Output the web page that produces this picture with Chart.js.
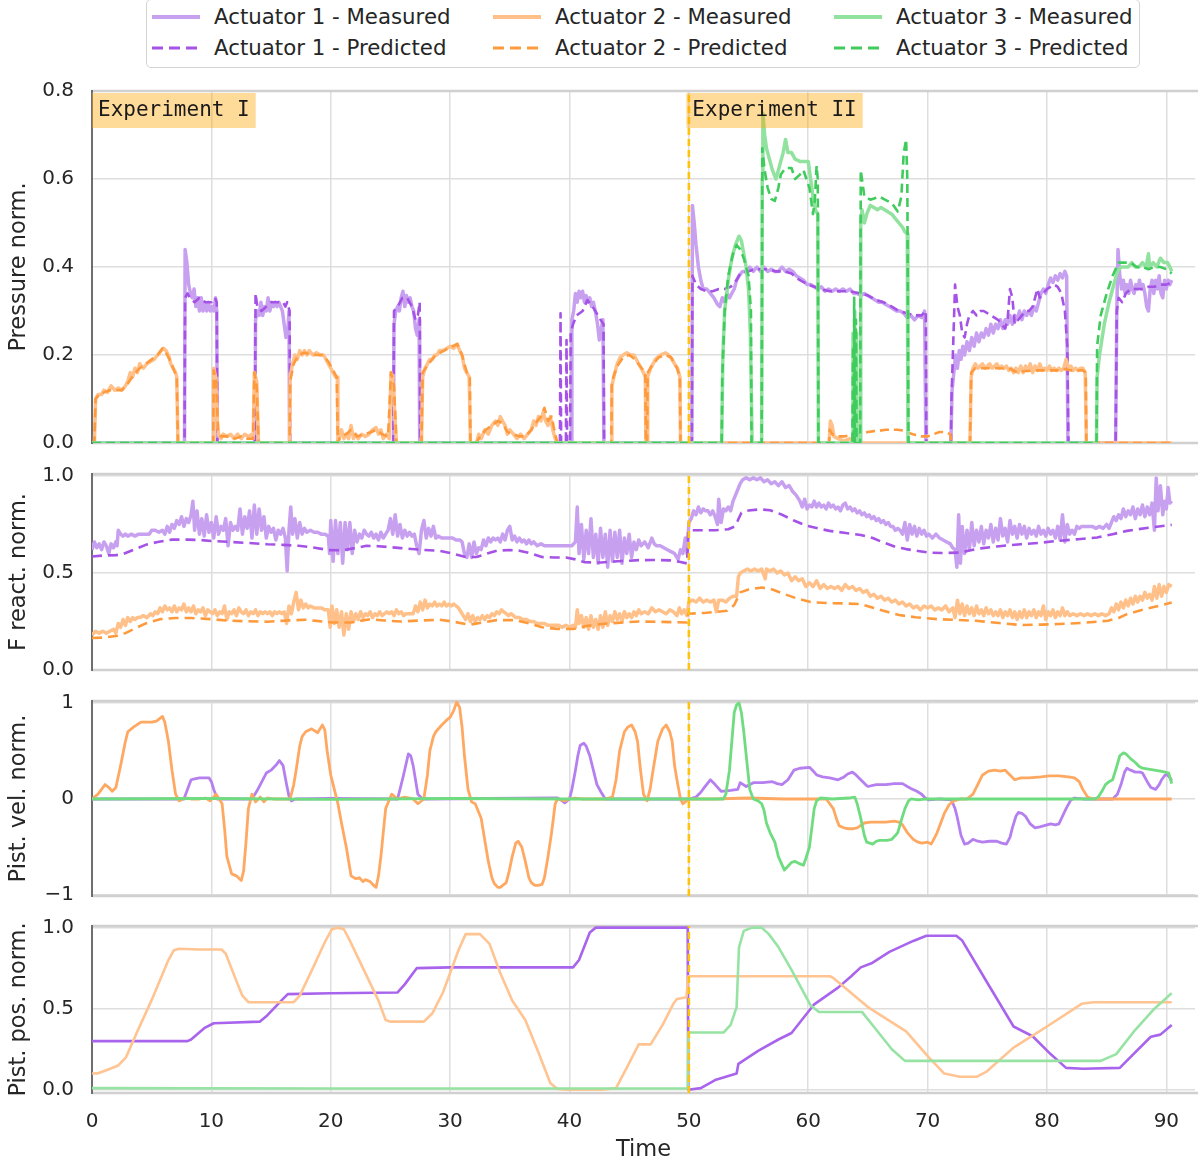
<!DOCTYPE html>
<html>
<head>
<meta charset="utf-8">
<script src="https://cdn.jsdelivr.net/npm/chart.js@4.4.1/dist/chart.umd.min.js"></script>
<style>
  html, body { margin: 0; padding: 0; background: #fff; }
  body { width: 1198px; height: 1164px; position: relative; overflow: hidden; font-family: "DejaVu Sans", sans-serif; }
  canvas { position: absolute; left: 0; }
  #legend { position: absolute; left: 146px; top: -1px; width: 992px; height: 67px; border: 1.5px solid #d4d4d4; border-radius: 5px; background: #fff; }
  .lg-text { position: absolute; font-size: 21.3px; line-height: 24px; color: #262626; white-space: nowrap; }
  .lg-line { position: absolute; }
</style>
</head>
<body>
<div id="legend"></div>
<canvas id="p1" width="1198" height="376" style="top:79px"></canvas>
<canvas id="p2" width="1198" height="220" style="top:462px"></canvas>
<canvas id="p3" width="1198" height="219" style="top:689px"></canvas>
<canvas id="p4" width="1198" height="250" style="top:914px"></canvas>
<script>
// ======================= DATA =======================
const xTicks = [0, 10, 20, 30, 40, 50, 60, 70, 80, 90];
const experimentNames = ['Experiment I', 'Experiment II'];
const experimentStarts = [0, 50];
const seriesNames = ['Actuator 1 - Measured', 'Actuator 1 - Predicted', 'Actuator 2 - Measured', 'Actuator 2 - Predicted', 'Actuator 3 - Measured', 'Actuator 3 - Predicted'];

const pressTicks = [0, 0.2, 0.4, 0.6, 0.8];
const forceTicks = [0, 0.5, 1.0];
const velTicks = [-1, 0, 1];
const posTicks = [0, 0.5, 1.0];

// ---- Panel 1: pressure (time, value) ----
const a1PressMeas = [[0,0],[7.75,0],[7.8,0.44],[7.95,0.41],[8.1,0.36],[8.25,0.34],[8.4,0.33],[8.55,0.35],[8.7,0.31],[8.85,0.33],[9.0,0.3],[9.15,0.33],[9.3,0.3],[9.45,0.32],[9.6,0.3],[9.75,0.32],[9.9,0.3],[10.05,0.31],[10.2,0.3],[10.35,0.33],[10.45,0.3],[10.5,0],
[13.65,0],[13.7,0.28],[13.85,0.3],[14.0,0.29],[14.15,0.32],[14.3,0.29],[14.45,0.31],[14.6,0.3],[14.75,0.33],[14.9,0.3],[15.05,0.32],[15.2,0.31],[15.35,0.32],[15.5,0.31],[15.65,0.32],[15.8,0.31],[15.95,0.3],[16.1,0.27],[16.25,0.24],[16.4,0.25],[16.5,0.3],[16.55,0],
[25.25,0],[25.3,0.27],[25.45,0.3],[25.6,0.31],[25.75,0.3],[25.9,0.33],[26.05,0.345],[26.2,0.31],[26.35,0.335],[26.5,0.32],[26.65,0.33],[26.8,0.31],[26.95,0.3],[27.1,0.26],[27.25,0.245],[27.4,0.28],[27.45,0],
[40.15,0],[40.2,0.28],[40.35,0.3],[40.5,0.34],[40.65,0.32],[40.8,0.345],[40.95,0.33],[41.1,0.345],[41.25,0.32],[41.4,0.335],[41.55,0.32],[41.7,0.33],[41.85,0.31],[42.0,0.32],[42.2,0.295],[42.35,0.27],[42.5,0.234],[42.65,0.26],[42.8,0.28],[42.88,0],
[50.25,0],[50.3,0.54],[50.45,0.5],[50.6,0.45],[50.8,0.4],[51.0,0.37],[51.2,0.35],[51.5,0.35],[51.8,0.34],[52.1,0.33],[52.4,0.315],[52.6,0.31],[52.8,0.33],[53.0,0.32],[53.2,0.34],[53.4,0.33],[53.6,0.34],[53.8,0.35],[54.0,0.37],[54.2,0.38],[54.5,0.39],[54.8,0.39],[55.1,0.4],[55.4,0.39],[55.7,0.4],[56.0,0.39],[56.3,0.4],[56.6,0.39],[56.9,0.395],[57.2,0.39],[57.5,0.39],[57.8,0.4],[58.1,0.39],[58.4,0.395],[58.7,0.39],[59.0,0.38],[59.3,0.375],[59.6,0.37],[59.9,0.36],[60.2,0.36],[60.5,0.355],[60.8,0.35],[61.1,0.355],[61.4,0.345],[61.7,0.35],[62.0,0.345],[62.3,0.35],[62.6,0.345],[62.9,0.35],[63.2,0.345],[63.5,0.35],[63.8,0.34],[64.1,0.34],[64.4,0.335],[64.7,0.34],[65.0,0.335],[65.3,0.33],[65.6,0.325],[65.9,0.32],[66.2,0.32],[66.5,0.315],[66.8,0.31],[67.1,0.305],[67.4,0.3],[67.7,0.3],[68.0,0.295],[68.3,0.285],[68.6,0.29],[68.9,0.28],[69.2,0.29],[69.5,0.285],[69.75,0.3],[69.85,0],
[71.95,0],[72.05,0.12],[72.2,0.16],[72.35,0.2],[72.5,0.17],[72.65,0.21],[72.8,0.19],[72.95,0.22],[73.1,0.2],[73.3,0.23],[73.5,0.21],[73.7,0.24],[73.9,0.22],[74.1,0.25],[74.3,0.23],[74.5,0.25],[74.7,0.24],[74.9,0.26],[75.1,0.245],[75.3,0.27],[75.5,0.25],[75.7,0.27],[75.9,0.26],[76.1,0.28],[76.3,0.26],[76.5,0.28],[76.7,0.27],[76.9,0.29],[77.1,0.27],[77.3,0.29],[77.5,0.28],[77.7,0.3],[77.9,0.28],[78.1,0.3],[78.3,0.29],[78.5,0.3],[78.7,0.29],[78.9,0.31],[79.1,0.3],[79.3,0.32],[79.5,0.34],[79.7,0.35],[79.9,0.34],[80.1,0.36],[80.3,0.375],[80.5,0.365],[80.7,0.38],[80.9,0.37],[81.1,0.385],[81.3,0.375],[81.5,0.39],[81.65,0.38],[81.75,0],
[85.75,0],[85.85,0.3],[85.95,0.44],[86.1,0.38],[86.25,0.35],[86.4,0.37],[86.55,0.34],[86.7,0.36],[86.85,0.34],[87.0,0.37],[87.15,0.35],[87.3,0.34],[87.45,0.36],[87.6,0.35],[87.75,0.37],[87.9,0.35],[88.05,0.36],[88.2,0.34],[88.35,0.31],[88.5,0.3],[88.65,0.35],[88.8,0.37],[88.95,0.34],[89.1,0.37],[89.25,0.35],[89.4,0.38],[89.55,0.34],[89.7,0.33],[89.85,0.37],[90.0,0.35],[90.15,0.37],[90.3,0.36],[90.45,0.37]];

const a1PressPred = [[0,0],[7.75,0],[7.8,0.33],[8.0,0.34],[8.2,0.33],[8.6,0.32],[9.0,0.33],[9.5,0.32],[10.0,0.32],[10.3,0.33],[10.45,0.32],[10.5,0],
[13.65,0],[13.7,0.34],[13.85,0.31],[14.2,0.3],[14.6,0.31],[15.0,0.32],[15.5,0.32],[16.0,0.32],[16.2,0.31],[16.35,0.32],[16.55,0.3],[16.6,0],
[25.25,0],[25.3,0.3],[25.6,0.31],[26.0,0.33],[26.4,0.33],[26.8,0.31],[27.1,0.28],[27.3,0.29],[27.45,0.32],[27.5,0],
[39.2,0],[39.25,0.295],[39.3,0],[39.7,0],[39.75,0.234],[39.8,0],[40.05,0],[40.1,0.25],[40.3,0.27],[40.6,0.29],[41.1,0.3],[41.5,0.325],[42.05,0.305],[42.6,0.28],[42.85,0.27],[42.9,0],
[50.25,0],[50.3,0.38],[50.6,0.36],[51.0,0.35],[51.5,0.345],[52.0,0.345],[52.5,0.35],[53.0,0.35],[53.5,0.355],[54.0,0.37],[54.3,0.385],[55.0,0.39],[55.5,0.395],[56.0,0.395],[56.7,0.395],[57.3,0.39],[58.0,0.39],[58.6,0.385],[59.3,0.37],[60.0,0.36],[60.5,0.355],[61.0,0.35],[61.8,0.345],[62.5,0.345],[63.4,0.345],[64.4,0.34],[65.0,0.335],[65.7,0.325],[66.3,0.32],[67.0,0.31],[67.6,0.3],[68.3,0.295],[68.9,0.29],[69.5,0.29],[69.85,0.3],[69.9,0],
[71.95,0],[72.0,0.1],[72.3,0.36],[72.5,0.31],[72.7,0.29],[72.9,0.25],[73.1,0.24],[73.3,0.27],[73.5,0.29],[73.8,0.3],[74.1,0.29],[74.4,0.3],[74.7,0.3],[75.0,0.295],[75.3,0.29],[75.6,0.285],[75.9,0.28],[76.2,0.27],[76.5,0.26],[76.7,0.28],[76.9,0.35],[77.1,0.33],[77.3,0.27],[77.6,0.28],[77.9,0.29],[78.2,0.3],[78.5,0.3],[78.8,0.31],[79.0,0.33],[79.2,0.35],[79.4,0.33],[79.7,0.34],[80.0,0.35],[80.3,0.355],[80.6,0.36],[80.9,0.355],[81.2,0.34],[81.5,0.3],[81.7,0.22],[81.8,0],
[85.75,0],[85.85,0.3],[86.0,0.33],[86.3,0.32],[86.6,0.34],[87.0,0.35],[87.5,0.35],[88.0,0.35],[88.5,0.355],[89.0,0.355],[89.5,0.36],[90.0,0.36],[90.45,0.365]];

const a2PressMeas = [[0,0],[0.2,0],[0.3,0.1],[0.5,0.11],[0.8,0.11],[1.0,0.12],[1.3,0.115],[1.6,0.13],[1.9,0.12],[2.2,0.125],[2.5,0.12],[2.8,0.13],[3.0,0.14],[3.2,0.16],[3.4,0.15],[3.6,0.17],[3.8,0.16],[4.0,0.18],[4.3,0.17],[4.6,0.18],[4.9,0.185],[5.2,0.19],[5.5,0.2],[5.8,0.21],[6.0,0.215],[6.2,0.21],[6.4,0.2],[6.6,0.18],[6.8,0.17],[7.0,0.16],[7.1,0.15],[7.2,0],
[10.15,0],[10.2,0.17],[10.35,0.15],[10.5,0.05],[10.6,0.02],[10.8,0.01],[11.0,0.02],[11.3,0.015],[11.6,0.02],[11.9,0.01],[12.2,0.02],[12.5,0.01],[12.8,0.02],[13.1,0.015],[13.4,0.02],[13.5,0.01],[13.6,0.16],[13.8,0.14],[13.95,0],
[16.55,0],[16.6,0.15],[16.8,0.18],[17.0,0.2],[17.2,0.19],[17.4,0.21],[17.6,0.2],[17.8,0.21],[18.0,0.2],[18.2,0.21],[18.5,0.2],[18.8,0.205],[19.1,0.2],[19.4,0.2],[19.6,0.19],[19.8,0.18],[20.0,0.17],[20.2,0.16],[20.4,0.15],[20.55,0.15],[20.6,0],[20.7,0.01],[20.9,0.03],[21.1,0.01],[21.3,0.02],[21.5,0.01],[21.7,0.04],[21.9,0.01],[22.1,0.02],[22.3,0.01],[22.6,0.02],[22.9,0.015],[23.2,0.02],[23.5,0.03],[23.8,0.035],[24.0,0.02],[24.2,0.03],[24.4,0.01],[24.7,0.02],[24.9,0.01],[25.05,0.16],[25.2,0.15],[25.4,0.05],[25.5,0],
[27.6,0],[27.7,0.15],[27.9,0.17],[28.1,0.18],[28.3,0.19],[28.5,0.19],[28.7,0.2],[28.9,0.2],[29.1,0.21],[29.4,0.21],[29.7,0.215],[30.0,0.22],[30.3,0.215],[30.6,0.225],[30.8,0.21],[31.0,0.2],[31.2,0.17],[31.4,0.16],[31.6,0.15],[31.7,0],
[32.2,0],[32.4,0.02],[32.6,0.01],[32.9,0.03],[33.2,0.02],[33.5,0.04],[33.8,0.05],[34.0,0.04],[34.2,0.06],[34.4,0.05],[34.6,0.04],[34.8,0.02],[35.0,0.03],[35.3,0.02],[35.6,0.01],[35.9,0.02],[36.2,0.01],[36.5,0.02],[36.8,0.03],[37.0,0.05],[37.2,0.04],[37.4,0.06],[37.6,0.05],[37.8,0.07],[38.0,0.05],[38.2,0.04],[38.4,0.06],[38.6,0.03],[38.8,0.01],[39.0,0],
[43.5,0],[43.55,0.13],[43.8,0.16],[44.0,0.18],[44.25,0.195],[44.5,0.2],[44.8,0.205],[45.1,0.2],[45.4,0.2],[45.7,0.185],[45.9,0.175],[46.2,0.16],[46.35,0.15],[46.4,0],[46.5,0],[46.55,0.15],[46.8,0.17],[47.0,0.18],[47.2,0.19],[47.6,0.2],[48.05,0.205],[48.3,0.2],[48.6,0.19],[48.8,0.18],[49.05,0.17],[49.25,0.15],[49.3,0],
[61.75,0],[61.85,0.05],[62.0,0.04],[62.15,0.015],[62.5,0.01],[63.0,0.005],[63.5,0.01],[64.0,0],
[73.55,0],[73.65,0.15],[73.8,0.17],[74.0,0.18],[74.2,0.17],[74.4,0.175],[74.6,0.18],[74.8,0.17],[75.0,0.175],[75.2,0.18],[75.4,0.17],[75.6,0.175],[75.8,0.18],[76.0,0.17],[76.2,0.175],[76.4,0.17],[76.6,0.175],[76.8,0.165],[77.0,0.17],[77.2,0.16],[77.4,0.17],[77.6,0.16],[77.8,0.175],[78.0,0.16],[78.2,0.175],[78.4,0.165],[78.6,0.18],[78.8,0.16],[79.0,0.175],[79.2,0.165],[79.4,0.18],[79.6,0.165],[79.8,0.17],[80.0,0.165],[80.2,0.175],[80.4,0.165],[80.6,0.17],[80.8,0.165],[81.0,0.17],[81.2,0.165],[81.4,0.17],[81.6,0.19],[81.8,0.17],[82.0,0.175],[82.2,0.165],[82.4,0.17],[82.6,0.165],[82.8,0.17],[83.0,0.17],[83.2,0.16],[83.3,0],[90.5,0]];

const a2PressPred = [[0,0],[0.2,0],[0.3,0.1],[0.6,0.11],[1.0,0.115],[1.5,0.12],[2.0,0.12],[2.5,0.12],[3.0,0.135],[3.5,0.155],[4.0,0.17],[4.5,0.18],[5.0,0.19],[5.5,0.2],[5.9,0.215],[6.2,0.205],[6.5,0.19],[6.8,0.17],[7.1,0.15],[7.2,0],
[10.15,0],[10.2,0.165],[10.4,0.14],[10.55,0.03],[10.8,0.015],[11.5,0.015],[12.0,0.01],[12.5,0.015],[13.0,0.01],[13.5,0.01],[13.6,0.16],[13.8,0.13],[13.95,0],
[16.55,0],[16.6,0.14],[16.9,0.18],[17.3,0.2],[17.8,0.205],[18.5,0.2],[19.3,0.2],[19.8,0.185],[20.2,0.165],[20.5,0.15],[20.6,0],[20.8,0.015],[21.3,0.02],[21.7,0.03],[22.2,0.015],[22.8,0.02],[23.4,0.025],[23.8,0.03],[24.3,0.02],[24.8,0.015],[25.05,0.16],[25.3,0.13],[25.5,0],
[27.6,0],[27.7,0.16],[28.2,0.18],[28.8,0.2],[29.5,0.21],[30.2,0.22],[30.6,0.225],[31.0,0.2],[31.4,0.16],[31.65,0.15],[31.7,0],
[32.2,0],[32.5,0.015],[33.0,0.03],[33.5,0.04],[34.0,0.05],[34.4,0.045],[34.8,0.025],[35.3,0.02],[35.8,0.015],[36.3,0.015],[36.8,0.03],[37.3,0.05],[37.6,0.06],[37.9,0.08],[38.2,0.05],[38.5,0.06],[38.8,0.02],[39.0,0],
[43.5,0],[43.55,0.14],[44.0,0.175],[44.5,0.195],[45.0,0.2],[45.5,0.19],[45.9,0.175],[46.35,0.16],[46.4,0],[46.5,0],[46.55,0.16],[47.0,0.18],[47.5,0.195],[48.05,0.2],[48.5,0.195],[49.0,0.17],[49.25,0.15],[49.3,0],
[61.75,0],[61.8,0.03],[62.0,0.02],[62.5,0.015],[63.0,0.015],[63.5,0.018],[64.0,0.02],[64.5,0.022],[65.0,0.025],[65.5,0.027],[66.0,0.028],[66.5,0.03],[67.0,0.03],[67.5,0.03],[68.0,0.028],[68.5,0.022],[69.0,0.018],[69.5,0.015],[70.0,0.015],[70.5,0.02],[71.0,0.025],[71.5,0.025],[71.9,0.02],[72.0,0],
[73.55,0],[73.65,0.16],[74.0,0.17],[75.0,0.17],[76.0,0.17],[77.0,0.168],[77.5,0.16],[78.0,0.163],[79.0,0.165],[80.0,0.165],[81.0,0.165],[81.5,0.168],[82.0,0.165],[83.0,0.165],[83.25,0.16],[83.3,0],[90.5,0]];

const a3PressMeas = [[0,0],[52.75,0],[52.85,0.2],[53.0,0.3],[53.3,0.37],[53.6,0.42],[53.9,0.45],[54.2,0.47],[54.4,0.46],[54.6,0.43],[54.8,0.4],[55.0,0.35],[55.15,0.25],[55.3,0],
[56.1,0],[56.15,0.6],[56.2,0.75],[56.35,0.7],[56.5,0.67],[56.8,0.64],[57.0,0.62],[57.3,0.6],[57.6,0.63],[57.9,0.66],[58.1,0.69],[58.3,0.66],[58.6,0.66],[58.9,0.645],[59.3,0.64],[59.7,0.64],[60.0,0.64],[60.2,0.6],[60.4,0.56],[60.6,0.53],[60.8,0.52],[60.85,0],
[63.7,0],[63.75,0.25],[63.8,0],[63.9,0.3],[63.95,0],[64.05,0.25],[64.1,0],[64.35,0],[64.4,0.5],[64.5,0.53],[64.7,0.5],[64.9,0.52],[65.2,0.54],[65.5,0.535],[65.8,0.53],[66.1,0.535],[66.4,0.53],[66.7,0.525],[67.0,0.52],[67.3,0.51],[67.6,0.5],[67.9,0.49],[68.1,0.48],[68.3,0.475],[68.35,0],
[84.15,0],[84.2,0.15],[84.4,0.2],[84.8,0.27],[85.2,0.32],[85.5,0.35],[85.9,0.39],[86.2,0.4],[86.5,0.4],[86.8,0.4],[87.1,0.41],[87.4,0.4],[87.7,0.4],[88.0,0.41],[88.3,0.4],[88.5,0.43],[88.6,0.4],[88.9,0.41],[89.2,0.4],[89.5,0.42],[89.8,0.41],[90.1,0.41],[90.3,0.4],[90.45,0.39]];

const a3PressPred = [[0,0],[52.75,0],[52.8,0.15],[53.0,0.3],[53.3,0.38],[53.7,0.43],[54.0,0.45],[54.3,0.44],[54.6,0.42],[55.0,0.38],[55.2,0.3],[55.25,0],
[56.1,0],[56.15,0.67],[56.35,0.62],[56.6,0.58],[56.9,0.555],[57.2,0.55],[57.5,0.58],[57.7,0.61],[58.1,0.625],[58.6,0.625],[58.9,0.6],[59.3,0.61],[59.6,0.62],[60.1,0.58],[60.4,0.52],[60.55,0.55],[60.7,0.63],[60.8,0.6],[60.85,0],
[63.7,0],[63.75,0.22],[63.8,0],[63.85,0.33],[63.9,0],[64.0,0.28],[64.05,0],[64.35,0],[64.4,0.62],[64.7,0.56],[65.2,0.553],[66.0,0.56],[66.3,0.555],[67.0,0.545],[67.5,0.526],[67.8,0.56],[68.0,0.66],[68.2,0.69],[68.3,0.6],[68.4,0],
[84.15,0],[84.2,0.22],[84.5,0.29],[85.0,0.34],[85.5,0.38],[86.0,0.41],[86.5,0.41],[87.0,0.41],[87.5,0.4],[88.0,0.4],[88.5,0.395],[89.0,0.4],[89.5,0.4],[90.0,0.395],[90.45,0.385]];

// ---- Panel 2: reaction force ----
const a1ForceMeas = [[0,0.62],[0.2,0.66],[0.4,0.63],[0.6,0.65],[0.8,0.62],[1.0,0.66],[1.2,0.64],[1.4,0.6],[1.6,0.65],[1.8,0.63],[2.0,0.66],[2.1,0.64],[2.2,0.72],[2.4,0.7],[2.6,0.69],[2.8,0.7],[3.0,0.69],[3.3,0.7],[3.6,0.69],[3.9,0.7],[4.2,0.7],[4.5,0.7],[4.8,0.7],[5.0,0.72],[5.3,0.72],[5.6,0.71],[5.9,0.72],[6.1,0.7],[6.3,0.74],[6.5,0.71],[6.7,0.75],[6.9,0.73],[7.1,0.77],[7.3,0.75],[7.5,0.79],[7.7,0.74],[7.9,0.78],[8.1,0.76],[8.3,0.8],[8.45,0.87],[8.6,0.72],[8.8,0.82],[9.0,0.7],[9.2,0.78],[9.4,0.69],[9.6,0.8],[9.8,0.71],[10.0,0.76],[10.2,0.68],[10.4,0.79],[10.6,0.7],[10.8,0.74],[11.0,0.72],[11.2,0.78],[11.4,0.64],[11.6,0.76],[11.8,0.72],[12.0,0.74],[12.2,0.72],[12.4,0.83],[12.6,0.7],[12.8,0.79],[13.0,0.73],[13.2,0.82],[13.4,0.68],[13.6,0.85],[13.8,0.7],[14.0,0.83],[14.2,0.72],[14.4,0.79],[14.6,0.68],[14.8,0.74],[15.0,0.71],[15.2,0.73],[15.4,0.67],[15.6,0.72],[15.8,0.7],[16.0,0.73],[16.2,0.68],[16.35,0.51],[16.5,0.72],[16.65,0.84],[16.8,0.7],[17.0,0.78],[17.2,0.68],[17.4,0.76],[17.6,0.7],[17.8,0.73],[18.0,0.71],[18.3,0.72],[18.6,0.71],[18.9,0.71],[19.2,0.7],[19.5,0.7],[19.8,0.69],[19.9,0.6],[20.0,0.77],[20.2,0.56],[20.4,0.77],[20.6,0.6],[20.8,0.76],[21.0,0.55],[21.2,0.76],[21.4,0.62],[21.6,0.76],[21.8,0.6],[22.0,0.72],[22.2,0.66],[22.4,0.7],[22.6,0.68],[22.8,0.72],[23.0,0.7],[23.2,0.69],[23.4,0.71],[23.6,0.68],[23.8,0.7],[24.0,0.67],[24.2,0.71],[24.4,0.68],[24.6,0.7],[24.8,0.72],[25.0,0.78],[25.2,0.7],[25.4,0.8],[25.6,0.69],[25.8,0.75],[26.0,0.68],[26.2,0.72],[26.4,0.69],[26.6,0.71],[26.8,0.69],[27.0,0.7],[27.2,0.64],[27.4,0.6],[27.6,0.72],[27.8,0.77],[28.0,0.68],[28.2,0.73],[28.4,0.69],[28.6,0.74],[28.8,0.68],[29.0,0.69],[29.3,0.68],[29.6,0.68],[29.9,0.68],[30.2,0.68],[30.5,0.67],[30.8,0.67],[31.0,0.66],[31.2,0.6],[31.4,0.58],[31.6,0.65],[31.8,0.58],[32.0,0.66],[32.2,0.6],[32.4,0.63],[32.6,0.62],[32.8,0.67],[33.0,0.64],[33.2,0.68],[33.4,0.66],[33.6,0.68],[33.8,0.67],[34.0,0.68],[34.2,0.66],[34.4,0.7],[34.6,0.67],[34.8,0.72],[35.0,0.74],[35.2,0.67],[35.4,0.69],[35.6,0.66],[35.8,0.68],[36.0,0.66],[36.2,0.67],[36.4,0.65],[36.6,0.67],[36.8,0.65],[37.0,0.66],[37.3,0.64],[37.6,0.65],[37.9,0.64],[38.2,0.64],[38.6,0.64],[39.0,0.64],[39.4,0.64],[39.8,0.64],[40.2,0.64],[40.5,0.66],[40.65,0.84],[40.8,0.6],[41.0,0.75],[41.2,0.57],[41.4,0.72],[41.6,0.6],[41.8,0.78],[42.0,0.58],[42.2,0.7],[42.4,0.55],[42.6,0.73],[42.8,0.58],[43.0,0.7],[43.2,0.53],[43.4,0.72],[43.6,0.56],[43.8,0.71],[44.0,0.58],[44.2,0.72],[44.4,0.55],[44.6,0.68],[44.8,0.6],[45.0,0.7],[45.2,0.58],[45.4,0.66],[45.6,0.62],[45.8,0.67],[46.0,0.64],[46.3,0.66],[46.6,0.63],[46.9,0.68],[47.1,0.65],[47.3,0.64],[47.6,0.64],[47.9,0.63],[48.2,0.62],[48.5,0.61],[48.8,0.6],[49.1,0.57],[49.3,0.62],[49.5,0.6],[49.7,0.68],[49.85,0.6],[50.0,0.76],[50.2,0.78],[50.4,0.82],[50.6,0.8],[50.8,0.84],[51.0,0.81],[51.2,0.83],[51.4,0.82],[51.6,0.82],[51.8,0.8],[52.0,0.82],[52.2,0.79],[52.4,0.75],[52.5,0.88],[52.7,0.76],[52.9,0.83],[53.1,0.82],[53.3,0.84],[53.5,0.82],[53.7,0.87],[53.9,0.9],[54.1,0.93],[54.3,0.96],[54.5,0.98],[54.8,0.99],[55.1,0.98],[55.4,0.99],[55.7,0.98],[56.0,0.99],[56.3,0.97],[56.6,0.98],[56.9,0.96],[57.2,0.97],[57.5,0.95],[57.8,0.97],[58.1,0.94],[58.4,0.95],[58.7,0.92],[59.0,0.9],[59.3,0.87],[59.5,0.84],[59.7,0.88],[59.9,0.83],[60.1,0.85],[60.3,0.84],[60.5,0.87],[60.7,0.84],[60.9,0.86],[61.1,0.84],[61.3,0.85],[61.5,0.83],[61.7,0.86],[61.9,0.84],[62.1,0.85],[62.3,0.83],[62.5,0.84],[62.7,0.82],[62.9,0.85],[63.1,0.86],[63.3,0.83],[63.5,0.84],[63.7,0.82],[63.9,0.83],[64.1,0.81],[64.3,0.82],[64.5,0.8],[64.7,0.81],[64.9,0.79],[65.1,0.8],[65.3,0.78],[65.5,0.79],[65.7,0.77],[65.9,0.78],[66.1,0.76],[66.3,0.77],[66.5,0.75],[66.7,0.76],[66.9,0.74],[67.1,0.74],[67.3,0.72],[67.5,0.73],[67.7,0.72],[67.9,0.7],[68.1,0.76],[68.3,0.67],[68.5,0.75],[68.7,0.7],[68.9,0.74],[69.1,0.69],[69.3,0.73],[69.5,0.7],[69.7,0.72],[69.9,0.69],[70.1,0.7],[70.4,0.68],[70.7,0.7],[71.0,0.68],[71.3,0.67],[71.6,0.66],[71.9,0.65],[72.1,0.63],[72.3,0.62],[72.45,0.53],[72.6,0.8],[72.75,0.55],[72.9,0.74],[73.1,0.6],[73.3,0.72],[73.5,0.62],[73.7,0.76],[73.9,0.64],[74.1,0.72],[74.3,0.66],[74.5,0.74],[74.7,0.65],[74.9,0.72],[75.1,0.68],[75.3,0.75],[75.5,0.66],[75.7,0.73],[75.9,0.67],[76.1,0.78],[76.3,0.69],[76.5,0.73],[76.7,0.66],[76.9,0.77],[77.1,0.7],[77.3,0.74],[77.5,0.68],[77.7,0.75],[77.9,0.7],[78.1,0.74],[78.3,0.68],[78.5,0.73],[78.7,0.7],[78.9,0.72],[79.1,0.69],[79.3,0.74],[79.5,0.7],[79.7,0.72],[79.9,0.69],[80.1,0.73],[80.3,0.7],[80.5,0.72],[80.7,0.68],[80.9,0.74],[81.1,0.67],[81.3,0.8],[81.5,0.66],[81.7,0.75],[81.9,0.7],[82.1,0.72],[82.3,0.7],[82.5,0.74],[82.7,0.73],[82.9,0.74],[83.2,0.74],[83.5,0.74],[83.8,0.74],[84.1,0.73],[84.4,0.74],[84.7,0.73],[85.0,0.75],[85.2,0.73],[85.4,0.76],[85.6,0.79],[85.8,0.77],[86.0,0.8],[86.2,0.78],[86.4,0.83],[86.6,0.79],[86.8,0.82],[87.0,0.8],[87.2,0.84],[87.4,0.78],[87.6,0.83],[87.8,0.8],[88.0,0.85],[88.2,0.79],[88.4,0.84],[88.6,0.8],[88.8,0.86],[89.0,0.72],[89.15,0.99],[89.3,0.82],[89.5,0.95],[89.7,0.8],[89.85,0.87],[90.0,0.83],[90.15,0.94],[90.3,0.86],[90.45,0.87]];

const a1ForcePred = [[0,0.585],[1,0.59],[2,0.592],[2.5,0.595],[3.5,0.62],[4.5,0.645],[5.5,0.66],[6.7,0.672],[8,0.672],[9,0.67],[10,0.665],[11.5,0.66],[13,0.655],[14.7,0.648],[16,0.645],[17.3,0.64],[18.5,0.632],[19.8,0.618],[21,0.617],[22,0.628],[23,0.64],[24,0.638],[25.9,0.628],[27.5,0.62],[29.1,0.614],[30.2,0.6],[31.3,0.582],[32.2,0.582],[33,0.598],[33.9,0.615],[35,0.618],[35.8,0.615],[36.8,0.6],[37.7,0.582],[38.7,0.58],[39.7,0.58],[40.5,0.57],[41.3,0.555],[42.65,0.554],[44,0.56],[45.8,0.566],[47,0.567],[48.4,0.565],[49.2,0.558],[49.85,0.549],[49.95,0.72],[50.5,0.72],[52.2,0.72],[53.3,0.725],[53.8,0.738],[54.1,0.77],[54.4,0.81],[55,0.822],[56,0.828],[56.8,0.823],[57.7,0.803],[58.8,0.77],[59.9,0.743],[61,0.727],[61.8,0.717],[63,0.707],[64.4,0.696],[65.4,0.68],[66.3,0.657],[67.3,0.635],[68.2,0.623],[69.2,0.613],[70.1,0.605],[71.4,0.603],[72.7,0.605],[73.7,0.618],[74.6,0.628],[76,0.638],[77.8,0.648],[79.5,0.656],[81,0.666],[82.6,0.674],[84.2,0.683],[85.5,0.7],[86.7,0.717],[88.5,0.733],[90.45,0.748]];

const a2ForceMeas = [[0,0.18],[0.3,0.2],[0.6,0.19],[0.9,0.2],[1.2,0.19],[1.5,0.2],[1.8,0.21],[2.0,0.19],[2.2,0.24],[2.4,0.22],[2.6,0.26],[2.8,0.23],[3.0,0.27],[3.2,0.25],[3.4,0.27],[3.6,0.26],[3.8,0.27],[4.0,0.27],[4.3,0.28],[4.6,0.27],[4.9,0.29],[5.1,0.28],[5.3,0.3],[5.5,0.29],[5.7,0.32],[5.9,0.3],[6.1,0.33],[6.3,0.31],[6.5,0.32],[6.7,0.3],[6.9,0.33],[7.1,0.3],[7.3,0.32],[7.5,0.31],[7.7,0.34],[7.9,0.3],[8.1,0.32],[8.3,0.3],[8.5,0.33],[8.7,0.29],[8.9,0.31],[9.1,0.3],[9.3,0.32],[9.5,0.28],[9.7,0.31],[9.9,0.3],[10.1,0.29],[10.3,0.31],[10.5,0.28],[10.7,0.3],[10.9,0.29],[11.1,0.33],[11.3,0.26],[11.5,0.3],[11.7,0.29],[11.9,0.31],[12.1,0.28],[12.3,0.32],[12.5,0.3],[12.7,0.29],[12.9,0.31],[13.1,0.28],[13.3,0.3],[13.5,0.29],[13.7,0.31],[13.9,0.28],[14.1,0.3],[14.3,0.29],[14.5,0.3],[14.7,0.29],[14.9,0.3],[15.1,0.28],[15.3,0.3],[15.5,0.29],[15.7,0.3],[15.9,0.29],[16.1,0.3],[16.3,0.24],[16.5,0.33],[16.7,0.29],[16.9,0.35],[17.1,0.4],[17.3,0.31],[17.5,0.36],[17.7,0.32],[17.9,0.34],[18.1,0.32],[18.3,0.33],[18.6,0.32],[18.9,0.32],[19.2,0.32],[19.5,0.31],[19.8,0.31],[19.95,0.22],[20.1,0.33],[20.3,0.24],[20.5,0.31],[20.7,0.22],[20.9,0.3],[21.1,0.18],[21.3,0.29],[21.5,0.21],[21.7,0.3],[21.9,0.25],[22.1,0.29],[22.3,0.26],[22.5,0.3],[22.7,0.27],[22.9,0.29],[23.1,0.28],[23.3,0.3],[23.5,0.27],[23.7,0.29],[23.9,0.28],[24.1,0.3],[24.3,0.28],[24.5,0.29],[24.7,0.3],[24.9,0.29],[25.1,0.3],[25.3,0.28],[25.5,0.31],[25.7,0.29],[25.9,0.3],[26.1,0.28],[26.3,0.29],[26.6,0.29],[26.9,0.29],[27.1,0.33],[27.3,0.3],[27.5,0.35],[27.7,0.31],[27.9,0.36],[28.1,0.32],[28.3,0.34],[28.5,0.33],[28.7,0.35],[28.9,0.33],[29.1,0.34],[29.3,0.33],[29.5,0.35],[29.7,0.33],[29.9,0.34],[30.1,0.33],[30.3,0.34],[30.5,0.33],[30.7,0.32],[30.9,0.3],[31.1,0.28],[31.3,0.26],[31.5,0.29],[31.7,0.25],[31.9,0.28],[32.1,0.25],[32.3,0.27],[32.5,0.26],[32.7,0.28],[32.9,0.26],[33.1,0.28],[33.3,0.27],[33.5,0.29],[33.7,0.28],[33.9,0.3],[34.1,0.29],[34.3,0.31],[34.5,0.3],[34.7,0.29],[34.9,0.28],[35.1,0.29],[35.3,0.28],[35.5,0.27],[35.8,0.27],[36.1,0.26],[36.4,0.26],[36.7,0.25],[37.0,0.25],[37.3,0.24],[37.6,0.24],[37.9,0.24],[38.2,0.23],[38.5,0.23],[38.8,0.23],[39.1,0.23],[39.4,0.22],[39.7,0.23],[40.0,0.22],[40.3,0.23],[40.5,0.22],[40.65,0.31],[40.8,0.24],[41.0,0.28],[41.2,0.22],[41.4,0.27],[41.6,0.21],[41.8,0.28],[42.0,0.22],[42.2,0.26],[42.4,0.21],[42.6,0.28],[42.8,0.22],[43.0,0.3],[43.2,0.23],[43.4,0.28],[43.6,0.25],[43.8,0.3],[44.0,0.26],[44.2,0.29],[44.4,0.25],[44.6,0.3],[44.8,0.27],[45.0,0.29],[45.2,0.27],[45.4,0.3],[45.6,0.28],[45.8,0.31],[46.0,0.29],[46.3,0.3],[46.6,0.29],[46.9,0.32],[47.2,0.3],[47.5,0.31],[47.8,0.3],[48.1,0.29],[48.4,0.31],[48.7,0.3],[49.0,0.28],[49.2,0.32],[49.4,0.29],[49.6,0.31],[49.85,0.28],[50.0,0.35],[50.3,0.36],[50.6,0.35],[50.9,0.37],[51.2,0.35],[51.5,0.36],[51.8,0.35],[52.1,0.36],[52.3,0.3],[52.5,0.36],[52.8,0.36],[53.1,0.35],[53.4,0.37],[53.7,0.38],[54.0,0.38],[54.15,0.48],[54.3,0.5],[54.6,0.51],[54.9,0.52],[55.2,0.51],[55.5,0.52],[55.8,0.51],[56.1,0.52],[56.4,0.47],[56.5,0.52],[56.8,0.51],[57.1,0.52],[57.4,0.5],[57.7,0.51],[58.0,0.49],[58.3,0.5],[58.6,0.46],[58.9,0.48],[59.2,0.46],[59.5,0.47],[59.8,0.43],[60.1,0.45],[60.4,0.43],[60.7,0.46],[61.0,0.42],[61.3,0.44],[61.6,0.42],[61.9,0.43],[62.2,0.42],[62.5,0.43],[62.8,0.41],[63.1,0.44],[63.4,0.42],[63.7,0.43],[64.0,0.41],[64.3,0.42],[64.6,0.4],[64.9,0.41],[65.2,0.38],[65.5,0.39],[65.8,0.37],[66.1,0.38],[66.4,0.36],[66.7,0.37],[67.0,0.35],[67.3,0.36],[67.6,0.34],[67.9,0.35],[68.2,0.33],[68.5,0.34],[68.8,0.32],[69.1,0.33],[69.4,0.31],[69.7,0.33],[70.0,0.32],[70.3,0.33],[70.6,0.31],[70.9,0.32],[71.2,0.31],[71.5,0.33],[71.8,0.3],[72.1,0.32],[72.3,0.27],[72.5,0.36],[72.7,0.29],[72.9,0.34],[73.1,0.28],[73.3,0.33],[73.5,0.29],[73.7,0.32],[73.9,0.28],[74.1,0.33],[74.3,0.29],[74.5,0.31],[74.7,0.28],[74.9,0.32],[75.1,0.29],[75.3,0.31],[75.5,0.28],[75.7,0.3],[75.9,0.28],[76.1,0.31],[76.3,0.27],[76.5,0.3],[76.7,0.28],[76.9,0.31],[77.1,0.27],[77.3,0.3],[77.5,0.26],[77.7,0.3],[77.9,0.27],[78.1,0.31],[78.3,0.27],[78.5,0.3],[78.7,0.28],[78.9,0.31],[79.1,0.27],[79.3,0.3],[79.5,0.28],[79.7,0.33],[79.9,0.26],[80.1,0.3],[80.3,0.28],[80.5,0.31],[80.7,0.27],[80.9,0.3],[81.1,0.28],[81.3,0.32],[81.5,0.28],[81.7,0.3],[81.9,0.28],[82.2,0.29],[82.5,0.28],[82.8,0.29],[83.1,0.28],[83.4,0.29],[83.7,0.28],[84.0,0.29],[84.3,0.28],[84.6,0.29],[84.9,0.28],[85.2,0.29],[85.4,0.32],[85.6,0.3],[85.8,0.34],[86.0,0.31],[86.2,0.35],[86.4,0.32],[86.6,0.36],[86.8,0.33],[87.0,0.37],[87.2,0.34],[87.4,0.38],[87.6,0.35],[87.8,0.38],[88.0,0.36],[88.2,0.4],[88.4,0.37],[88.6,0.39],[88.8,0.36],[89.0,0.43],[89.2,0.37],[89.4,0.44],[89.6,0.38],[89.8,0.43],[90.0,0.4],[90.2,0.44],[90.45,0.43]];

const a2ForcePred = [[0,0.165],[1,0.167],[2.2,0.177],[2.8,0.19],[3.5,0.211],[4.5,0.24],[5.7,0.262],[7,0.268],[8.3,0.268],[10,0.262],[11.5,0.254],[13,0.251],[14.7,0.249],[16.3,0.255],[17.9,0.259],[19,0.252],[20.1,0.245],[21.7,0.245],[23.3,0.262],[24.5,0.255],[25.9,0.25],[27.5,0.255],[29.1,0.259],[30.2,0.25],[31.6,0.233],[32.7,0.245],[33.9,0.257],[35.5,0.257],[36.6,0.24],[37.7,0.22],[39,0.212],[40.3,0.211],[41.3,0.225],[42.65,0.237],[44,0.243],[45.8,0.25],[47.5,0.248],[49.85,0.245],[49.95,0.29],[51.5,0.295],[53.2,0.305],[53.8,0.335],[54.3,0.4],[55,0.415],[56.1,0.425],[57,0.415],[58,0.391],[59,0.37],[60.2,0.35],[61.5,0.345],[63,0.343],[64.4,0.34],[65.5,0.32],[66.6,0.3],[67.6,0.283],[69,0.272],[70.8,0.262],[72.5,0.258],[74,0.254],[76,0.242],[77.8,0.232],[79.5,0.234],[81,0.237],[83,0.243],[85.1,0.254],[86,0.268],[86.7,0.288],[88,0.31],[89.5,0.333],[90.45,0.348]];

// ---- Panel 3: piston velocity ----
const a1Vel = [[0,0],[7.7,0],[8.0,0.1],[8.3,0.2],[8.6,0.21],[9.0,0.22],[9.4,0.22],[9.8,0.22],[10.0,0.18],[10.2,0.1],[10.5,0],[13.4,0],[13.8,0.08],[14.1,0.15],[14.6,0.27],[15.0,0.3],[15.4,0.35],[15.7,0.4],[16.0,0.35],[16.3,0.15],[16.5,0.03],[16.7,-0.02],[17,0],[20,0.005],[25.6,0],[25.9,0.15],[26.1,0.25],[26.5,0.47],[26.7,0.45],[26.9,0.35],[27.1,0.2],[27.3,0.05],[27.7,0],[33,0.005],[39.0,0.01],[39.4,-0.02],[39.6,-0.04],[40.0,0],[40.2,0.1],[40.5,0.3],[40.7,0.45],[40.9,0.56],[41.2,0.58],[41.4,0.55],[41.7,0.45],[42.0,0.3],[42.3,0.15],[42.65,0.07],[43.0,0],[50,0],[50.6,0.02],[51.0,0.07],[51.3,0.12],[51.8,0.2],[52.2,0.15],[52.7,0.08],[53.5,0.09],[54.1,0.1],[54.3,0.17],[54.8,0.13],[55.4,0.17],[56.2,0.17],[57.0,0.18],[57.4,0.16],[57.8,0.15],[58.3,0.2],[58.8,0.3],[59.3,0.32],[60.1,0.33],[60.5,0.28],[60.7,0.25],[61.2,0.23],[61.8,0.22],[62.5,0.2],[63.0,0.23],[63.3,0.26],[63.7,0.28],[64.0,0.25],[64.4,0.2],[64.8,0.15],[65.0,0.13],[65.7,0.15],[66.5,0.15],[67.2,0.16],[67.9,0.16],[68.3,0.13],[68.6,0.11],[69.1,0.08],[69.5,0.05],[69.8,0.01],[70.1,-0.01],[71,0],[72,-0.01],[72.3,-0.1],[72.5,-0.2],[72.8,-0.38],[73.1,-0.47],[73.4,-0.46],[73.8,-0.42],[74.2,-0.44],[74.6,-0.45],[75.2,-0.44],[75.8,-0.44],[76.2,-0.46],[76.6,-0.47],[76.9,-0.4],[77.1,-0.3],[77.4,-0.18],[77.6,-0.14],[77.9,-0.15],[78.2,-0.18],[78.6,-0.26],[79.0,-0.3],[79.4,-0.29],[79.7,-0.28],[80.3,-0.26],[80.7,-0.27],[81.0,-0.26],[81.3,-0.18],[81.6,-0.1],[82.0,-0.01],[82.3,0.01],[83,0],[85.5,0],[85.9,0.05],[86.2,0.15],[86.5,0.28],[86.7,0.32],[87.0,0.3],[87.4,0.28],[87.8,0.28],[88.0,0.27],[88.4,0.18],[88.7,0.12],[89.1,0.1],[89.4,0.15],[89.6,0.2],[89.9,0.25],[90.1,0.25],[90.3,0.22],[90.45,0.19]];

const a2Vel = [[0,0],[0.5,0.05],[1.1,0.15],[1.4,0.12],[1.7,0.08],[2.0,0.12],[2.4,0.35],[2.8,0.6],[3.0,0.7],[3.5,0.75],[4.1,0.8],[4.6,0.8],[5.0,0.8],[5.4,0.81],[5.7,0.84],[5.9,0.86],[6.1,0.8],[6.4,0.6],[6.7,0.3],[7.0,0.05],[7.3,-0.02],[7.6,0],[8.0,0.01],[8.3,0],[9.0,0],[9.5,0.01],[9.9,-0.02],[10.4,0.05],[10.9,-0.05],[11.1,-0.3],[11.3,-0.6],[11.7,-0.78],[12.1,-0.8],[12.5,-0.85],[12.7,-0.75],[12.9,-0.45],[13.1,-0.1],[13.4,0.05],[13.7,-0.03],[14.1,0.02],[14.4,-0.03],[14.7,0.01],[15.2,0],[16.0,0],[16.6,0],[16.9,0.15],[17.1,0.3],[17.4,0.55],[17.6,0.65],[17.9,0.7],[18.4,0.73],[18.9,0.69],[19.3,0.77],[19.5,0.72],[19.7,0.5],[20.0,0.25],[20.3,0.1],[20.6,-0.05],[20.9,-0.25],[21.3,-0.5],[21.7,-0.8],[22.1,-0.83],[22.4,-0.82],[22.7,-0.86],[22.9,-0.84],[23.3,-0.86],[23.6,-0.9],[23.8,-0.92],[24.0,-0.8],[24.2,-0.6],[24.6,-0.1],[25.1,0.05],[25.6,0],[26.2,0.02],[26.9,0],[27.3,-0.05],[27.8,0],[28.1,0.25],[28.3,0.5],[28.6,0.65],[28.8,0.7],[29.3,0.77],[29.7,0.82],[30.0,0.85],[30.3,0.92],[30.55,1.01],[30.8,0.95],[31.0,0.75],[31.2,0.45],[31.5,0.1],[31.8,-0.03],[32.1,-0.05],[32.6,-0.2],[33.0,-0.5],[33.2,-0.65],[33.5,-0.82],[33.7,-0.88],[34.0,-0.92],[34.2,-0.92],[34.7,-0.87],[34.95,-0.75],[35.2,-0.6],[35.5,-0.46],[35.7,-0.44],[36.0,-0.5],[36.3,-0.65],[36.6,-0.82],[36.8,-0.87],[37.1,-0.9],[37.4,-0.9],[37.7,-0.89],[37.9,-0.82],[38.2,-0.6],[38.5,-0.35],[38.8,-0.05],[39.0,0],[39.6,-0.02],[40.0,0],[40.5,0.01],[41.0,0],[42,0],[43.0,0],[43.6,0.02],[43.9,0.2],[44.2,0.5],[44.6,0.7],[44.9,0.75],[45.2,0.77],[45.5,0.7],[45.7,0.6],[45.95,0.3],[46.2,0.05],[46.5,-0.02],[46.75,0.1],[47.0,0.3],[47.4,0.6],[47.8,0.73],[48.1,0.77],[48.4,0.7],[48.6,0.6],[48.8,0.35],[49.0,0.2],[49.3,0.0],[49.5,-0.05],[49.7,-0.03],[50,0],[52,0],[55,0.01],[58,0],[61.5,0],[61.8,-0.05],[62.1,-0.1],[62.4,-0.22],[62.6,-0.28],[63.0,-0.3],[63.4,-0.31],[63.7,-0.31],[64.1,-0.3],[64.7,-0.25],[65.2,-0.24],[65.7,-0.24],[66.5,-0.24],[67.2,-0.23],[67.6,-0.24],[67.9,-0.27],[68.3,-0.35],[68.8,-0.42],[69.2,-0.45],[69.5,-0.46],[70.0,-0.45],[70.3,-0.47],[70.6,-0.4],[70.8,-0.35],[71.1,-0.25],[71.4,-0.15],[71.8,-0.06],[72.2,-0.02],[72.7,0],[73.3,0],[73.8,0.05],[74.2,0.15],[74.6,0.25],[75.1,0.29],[75.6,0.3],[76.1,0.29],[76.5,0.3],[76.9,0.25],[77.3,0.2],[77.8,0.22],[78.5,0.22],[79.5,0.23],[80.2,0.24],[81,0.24],[81.8,0.23],[82.3,0.22],[82.7,0.18],[83.0,0.1],[83.4,0.02],[83.9,0],[85,0],[87,0],[89,0],[90.45,0]];

const a3Vel = [[0,0],[10,0.005],[20,-0.005],[30,0.005],[40,0],[50,0],[52.9,0],[53.1,0.05],[53.4,0.3],[53.6,0.6],[53.8,0.9],[54.0,0.98],[54.2,1.0],[54.4,0.9],[54.6,0.7],[54.85,0.4],[55.1,0.1],[55.4,0],[55.8,-0.02],[56.1,-0.05],[56.3,-0.12],[56.5,-0.25],[56.8,-0.35],[57.2,-0.45],[57.5,-0.6],[58.0,-0.74],[58.3,-0.7],[58.6,-0.66],[58.9,-0.65],[59.2,-0.67],[59.6,-0.69],[59.8,-0.62],[60.1,-0.5],[60.3,-0.3],[60.5,-0.1],[60.7,-0.02],[61.0,0.01],[62,0],[63.4,0.01],[63.9,0.02],[64.1,-0.05],[64.4,-0.2],[64.7,-0.38],[64.9,-0.45],[65.4,-0.47],[65.7,-0.44],[66.0,-0.43],[66.6,-0.43],[67.0,-0.42],[67.3,-0.38],[67.5,-0.35],[67.8,-0.22],[68.1,-0.1],[68.4,-0.02],[68.6,0],[69.2,-0.01],[70,0],[84,0],[84.3,0.02],[84.6,0.08],[84.9,0.15],[85.2,0.18],[85.5,0.2],[85.8,0.32],[86.1,0.45],[86.4,0.48],[86.6,0.47],[87.0,0.42],[87.4,0.38],[87.7,0.34],[88.0,0.32],[88.5,0.31],[89.0,0.3],[89.5,0.29],[89.9,0.28],[90.2,0.27],[90.45,0.16]];

// ---- Panel 4: piston position ----
const a1Pos = [[0,0.3],[8.0,0.3],[8.3,0.31],[9.4,0.38],[10.2,0.41],[14.05,0.42],[14.7,0.46],[16.0,0.56],[16.4,0.59],[20,0.595],[25.6,0.6],[26.2,0.65],[27.2,0.75],[30,0.755],[40.3,0.755],[40.8,0.8],[41.7,0.97],[42.2,1.0],[49.9,1.0],[49.95,0],[51.0,0.01],[52.2,0.06],[54.0,0.1],[54.15,0.16],[55.8,0.24],[57.5,0.31],[58.6,0.35],[60.5,0.527],[62.5,0.63],[63.6,0.7],[64.4,0.755],[65.3,0.78],[66.8,0.85],[68.8,0.918],[69.9,0.95],[72.4,0.95],[72.9,0.92],[75,0.66],[77.2,0.39],[78.8,0.33],[80.3,0.22],[81.6,0.135],[83,0.13],[86.1,0.135],[86.7,0.18],[88.7,0.327],[89.5,0.34],[90.45,0.4]];

const a2Pos = [[0,0.1],[0.45,0.1],[1.2,0.12],[2.2,0.15],[2.85,0.2],[3.8,0.36],[5.1,0.57],[6.4,0.8],[6.85,0.86],[7.3,0.87],[9,0.865],[10.85,0.865],[11.2,0.84],[12.1,0.67],[12.6,0.58],[13.1,0.54],[15,0.54],[16.9,0.54],[17.4,0.58],[18.5,0.75],[19.5,0.91],[20.1,0.99],[20.6,1.0],[21.1,0.99],[21.6,0.92],[22.7,0.75],[24.0,0.55],[24.6,0.43],[25,0.42],[27.8,0.42],[28.5,0.47],[29.4,0.6],[30.7,0.86],[31.3,0.96],[32.5,0.96],[33.3,0.9],[34.2,0.72],[35.2,0.55],[36.3,0.43],[37.4,0.23],[38.4,0.04],[39.0,0.005],[40,0],[42.65,0],[43.9,0.01],[44.9,0.15],[45.8,0.28],[46.8,0.28],[47.8,0.4],[48.7,0.53],[49.0,0.56],[49.8,0.57],[49.95,0.7],[55,0.7],[61.8,0.7],[62.1,0.69],[65,0.51],[68.2,0.36],[70.1,0.2],[71.4,0.1],[72.7,0.08],[74.1,0.08],[74.9,0.11],[77.2,0.26],[80,0.39],[82.9,0.53],[83.9,0.54],[90.45,0.54]];

const a3Pos = [[0,0.01],[20,0.008],[40,0.008],[49.9,0.008],[49.95,0.353],[52.9,0.353],[53.5,0.4],[54.0,0.51],[54.2,0.878],[54.6,0.98],[55.3,1.0],[56.1,1.0],[56.7,0.96],[57.5,0.88],[58.6,0.74],[60.2,0.52],[60.9,0.48],[64.5,0.48],[65.7,0.37],[67.0,0.25],[68.1,0.178],[84.5,0.178],[85.8,0.22],[87.4,0.37],[89.0,0.5],[90.45,0.596]];

// ======================= STYLE =======================
const FONT = '"DejaVu Sans", "Liberation Sans", sans-serif';
const MONO = '"DejaVu Sans Mono", "Liberation Mono", monospace';
const TXT = '#262626';
const GRID = '#dedede';
const GOLD = '#FFC20E';
const C = {
  p1: { m1: '#C8A0F0', p1: '#A552E6', m2: '#FFC08A', p2: '#FF9A3C', m3: '#91E29E', p3: '#40CC5C' },
  p3: { a1: '#B57FF0', a2: '#FFA862', a3: '#6FDC80' },
  p4: { a1: '#A864EC', a2: '#FFC491', a3: '#96E3A3' }
};

function pts(arr) { return arr.map(p => ({ x: p[0], y: p[1] })); }
function line(arr, color, width, dash) {
  return { data: pts(arr), borderColor: color, borderWidth: width, borderDash: dash || [],
    pointRadius: 0, pointHoverRadius: 0, fill: false, tension: 0,
    borderJoinStyle: 'round', borderCapStyle: 'butt', spanGaps: true };
}
function goldLine(lo, hi) {
  return line([[experimentStarts[1], lo], [experimentStarts[1], hi]], GOLD, 2.6, [7, 4]);
}

const framePlugin = {
  id: 'frame',
  beforeDatasetsDraw(chart) {
    const { ctx, chartArea: a } = chart;
    ctx.save();
    ctx.strokeStyle = '#d0d0d0'; ctx.lineWidth = 2.5;
    ctx.beginPath(); ctx.moveTo(a.left, a.top); ctx.lineTo(chart.width, a.top); ctx.stroke();
    ctx.beginPath(); ctx.moveTo(a.left, a.bottom); ctx.lineTo(chart.width, a.bottom); ctx.stroke();
    ctx.strokeStyle = '#6e6e6e'; ctx.lineWidth = 2;
    ctx.beginPath(); ctx.moveTo(a.left, a.top - 1); ctx.lineTo(a.left, a.bottom + 1); ctx.stroke();
    ctx.restore();
  },
  afterDatasetsDraw(chart, args, opts) {
    if (!opts || !opts.labels) return;
    const { ctx, chartArea: a } = chart;
    const xs = chart.scales.x;
    ctx.save();
    ctx.font = '21px ' + MONO;
    experimentNames.forEach((name, i) => {
      const x0 = Math.max(a.left, xs.getPixelForValue(experimentStarts[i]) - 2.5);
      const w = ctx.measureText(name).width + 12;
      ctx.fillStyle = 'rgba(255,165,0,0.4)';
      ctx.fillRect(x0, a.top + 2, w, 35);
      ctx.fillStyle = '#1a1a1a';
      ctx.textBaseline = 'middle';
      ctx.fillText(name, x0 + 6, a.top + 20);
    });
    ctx.restore();
  }
};

function makePanel(id, datasets, y, bottom, labels) {
  datasets.forEach((d, i) => { d.order = 100 - i; });
  return new Chart(document.getElementById(id), {
    type: 'line',
    data: { datasets },
    options: {
      responsive: false, animation: false, devicePixelRatio: 1, events: [],
      layout: { padding: { top: 12, bottom: bottom ? 0 : 12, left: 0, right: 3 } },
      plugins: { legend: { display: false }, tooltip: { enabled: false }, frame: { labels: !!labels } },
      scales: {
        x: {
          type: 'linear', min: 0, max: 92.4,
          afterFit: s => { s.height = bottom ? 71 : 0; s.paddingLeft = 0; s.paddingRight = 0; },
          afterBuildTicks: s => { s.ticks = xTicks.map(v => ({ value: v })); },
          grid: { color: GRID, lineWidth: 1.5, drawTicks: false },
          border: { display: false },
          ticks: { display: !!bottom, padding: 17, color: TXT, font: { family: FONT, size: 20 }, callback: v => String(v), maxRotation: 0 },
          title: { display: !!bottom, text: 'Time', color: TXT, font: { family: FONT, size: 22.5 }, padding: { top: 0, bottom: 0 } }
        },
        y: {
          type: 'linear', min: y.min, max: y.max,
          afterFit: s => { s.width = 92; s.paddingTop = 0; s.paddingBottom = 0; },
          afterBuildTicks: s => { s.ticks = y.ticks.map(v => ({ value: v })); },
          grid: { color: GRID, lineWidth: 1.5, drawTicks: false },
          border: { display: false },
          ticks: { padding: 18, color: TXT, font: { family: FONT, size: 20 }, callback: y.fmt },
          title: { display: true, text: y.title, color: TXT, font: { family: FONT, size: 22.5 }, padding: { top: 6, bottom: 0 } }
        }
      }
    },
    plugins: [framePlugin]
  });
}

const fmt1 = v => v.toFixed(1);
const fmtInt = v => (v < 0 ? '\u2212' + Math.abs(v) : String(v));

makePanel('p1', [
  line(a1PressMeas, C.p1.m1, 3.5), line(a1PressPred, C.p1.p1, 2.6, [9, 5]),
  line(a2PressMeas, C.p1.m2, 3.5), line(a2PressPred, C.p1.p2, 2.6, [9, 5]),
  line(a3PressMeas, C.p1.m3, 3.5), line(a3PressPred, C.p1.p3, 2.6, [9, 5]),
  goldLine(0, 0.8)
], { min: 0, max: 0.8, ticks: pressTicks, fmt: fmt1, title: 'Pressure norm.' }, false, true);

makePanel('p2', [
  line(a1ForceMeas, C.p1.m1, 3.5), line(a1ForcePred, C.p1.p1, 2.6, [10, 6]),
  line(a2ForceMeas, C.p1.m2, 3.5), line(a2ForcePred, C.p1.p2, 2.6, [10, 6]),
  goldLine(0, 1.01)
], { min: 0, max: 1.01, ticks: forceTicks, fmt: fmt1, title: 'F react. norm.' }, false, false);

makePanel('p3', [
  line(a1Vel, C.p3.a1, 2.8), line(a2Vel, C.p3.a2, 2.8), line(a3Vel, C.p3.a3, 2.8),
  goldLine(-1.01, 1.02)
], { min: -1.01, max: 1.02, ticks: velTicks, fmt: fmtInt, title: 'Pist. vel. norm.' }, false, false);

makePanel('p4', [
  line(a1Pos, C.p4.a1, 2.6), line(a2Pos, C.p4.a2, 2.6), line(a3Pos, C.p4.a3, 2.6),
  goldLine(-0.02, 1.01)
], { min: -0.02, max: 1.01, ticks: posTicks, fmt: fmt1, title: 'Pist. pos. norm.' }, true, false);

// ======================= LEGEND (HTML text) =======================
(function buildLegend() {
  const cols = [152, 493, 834];
  const textX = [214, 555, 896];
  const rowsY = [17, 48];
  const colors = [[C.p1.m1, C.p1.p1], [C.p1.m2, C.p1.p2], [C.p1.m3, C.p1.p3]];
  for (let c = 0; c < 3; c++) {
    for (let r = 0; r < 2; r++) {
      const name = seriesNames[c * 2 + r];
      const svgNS = 'http://www.w3.org/2000/svg';
      const svg = document.createElementNS(svgNS, 'svg');
      svg.setAttribute('width', '48'); svg.setAttribute('height', '10');
      svg.setAttribute('class', 'lg-line');
      svg.style.left = cols[c] + 'px'; svg.style.top = (rowsY[r] - 5) + 'px';
      const ln = document.createElementNS(svgNS, 'line');
      ln.setAttribute('x1', '0'); ln.setAttribute('x2', '48'); ln.setAttribute('y1', '5'); ln.setAttribute('y2', '5');
      ln.setAttribute('stroke', colors[c][r]);
      ln.setAttribute('stroke-width', r === 0 ? '4' : '3.2');
      if (r === 1) ln.setAttribute('stroke-dasharray', '11,6');
      svg.appendChild(ln);
      document.body.appendChild(svg);
      const t = document.createElement('div');
      t.className = 'lg-text';
      t.textContent = name;
      t.style.left = textX[c] + 'px';
      t.style.top = (rowsY[r] - 12) + 'px';
      document.body.appendChild(t);
    }
  }
})();
</script>
</body>
</html>
